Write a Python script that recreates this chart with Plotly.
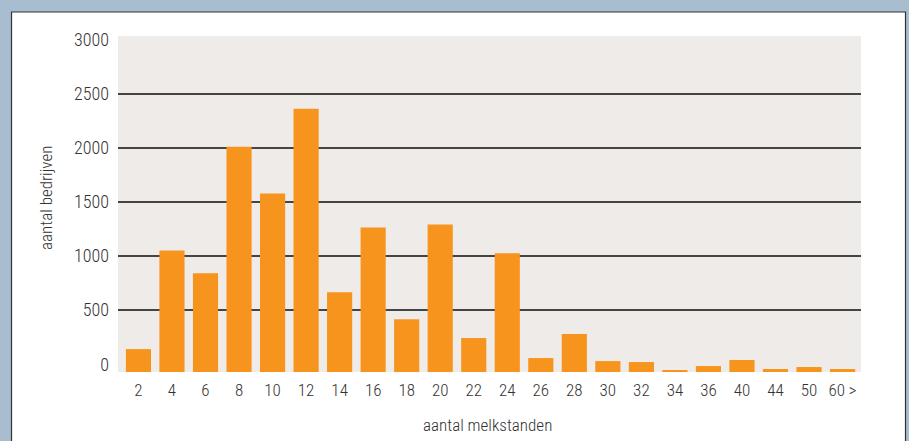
import plotly.graph_objects as go

categories = ["2", "4", "6", "8", "10", "12", "14", "16", "18", "20", "22",
              "24", "26", "28", "30", "32", "34", "36", "40", "44", "50", "60 >"]
bedrijven = [212, 1125, 913, 2085, 1651, 2435, 738, 1338, 489, 1365, 314,
             1098, 129, 351, 101, 92, 18, 55, 111, 28, 46, 28]
y_tick_vals = [0, 500, 1000, 1500, 2000, 2500, 3000]
grid_vals = [500, 1000, 1500, 2000, 2500]

Y_MIN, Y_MAX = -72, 3037
FONT = "Roboto Condensed, DejaVu Sans Condensed, sans-serif"
TXT = "#333333"
W = 300

fig = go.Figure()
fig.add_trace(go.Bar(
    x=categories, y=bedrijven, base=Y_MIN,
    marker=dict(color="#F7941D", line=dict(width=0)),
    hoverinfo="x+y",
))
# invisible trace on overlay axis to carry gridlines
fig.add_trace(go.Scatter(x=[categories[0]], y=[0], yaxis="y2", mode="markers",
                         marker=dict(opacity=0), showlegend=False, hoverinfo="skip"))

fig.update_layout(
    width=909, height=441,
    margin=dict(l=118, r=48, t=36, b=69),
    paper_bgcolor="#A9BDD1",
    plot_bgcolor="#EFEBE8",
    showlegend=False,
    bargap=0.25,
    font=dict(family=FONT, color=TXT, weight=W),
    xaxis=dict(
        type="category", range=[-0.61, 21.55],
        showgrid=False, zeroline=False, showline=False,
        tickfont=dict(size=17, family=FONT, color=TXT, weight=W),
        ticks="", ticklabelstandoff=6,
    ),
    yaxis=dict(
        range=[Y_MIN, Y_MAX], tickvals=y_tick_vals,
        showgrid=False, zeroline=False, showline=False,
        tickfont=dict(size=18, family=FONT, color=TXT, weight=W),
        ticks="", ticklabelstandoff=8,
    ),
    yaxis2=dict(
        range=[Y_MIN, Y_MAX], overlaying="y", side="left",
        tickvals=grid_vals, showticklabels=False, ticks="",
        showgrid=True, gridcolor="#444444", gridwidth=1.7,
        zeroline=False, showline=False,
    ),
    shapes=[
        dict(type="rect", xref="paper", yref="paper", layer="below",
             x0=-0.1433, x1=1.0599, y0=-0.4, y1=1.0714,
             fillcolor="white", line=dict(color="#333333", width=1.2)),
        dict(type="rect", xref="paper", yref="paper", layer="below",
             x0=0, x1=1, y0=0, y1=1,
             fillcolor="#EFEBE8", line=dict(width=0)),
    ],
    annotations=[
        dict(text="aantal bedrijven", xref="paper", yref="paper",
             x=-0.0969, y=0.518, textangle=-90, showarrow=False,
             font=dict(size=17, family=FONT, color=TXT, weight=W),
             xanchor="center", yanchor="middle"),
        dict(text="aantal melkstanden", xref="paper", yref="paper",
             x=0.497, y=-0.157, showarrow=False,
             font=dict(size=17, family=FONT, color=TXT, weight=W),
             xanchor="center", yanchor="middle"),
    ],
)

fig.write_html("out.html",
               config={"displayModeBar": False},
               post_script="document.body.style.margin='0';"
                           "document.body.style.background='#A9BDD1';")
